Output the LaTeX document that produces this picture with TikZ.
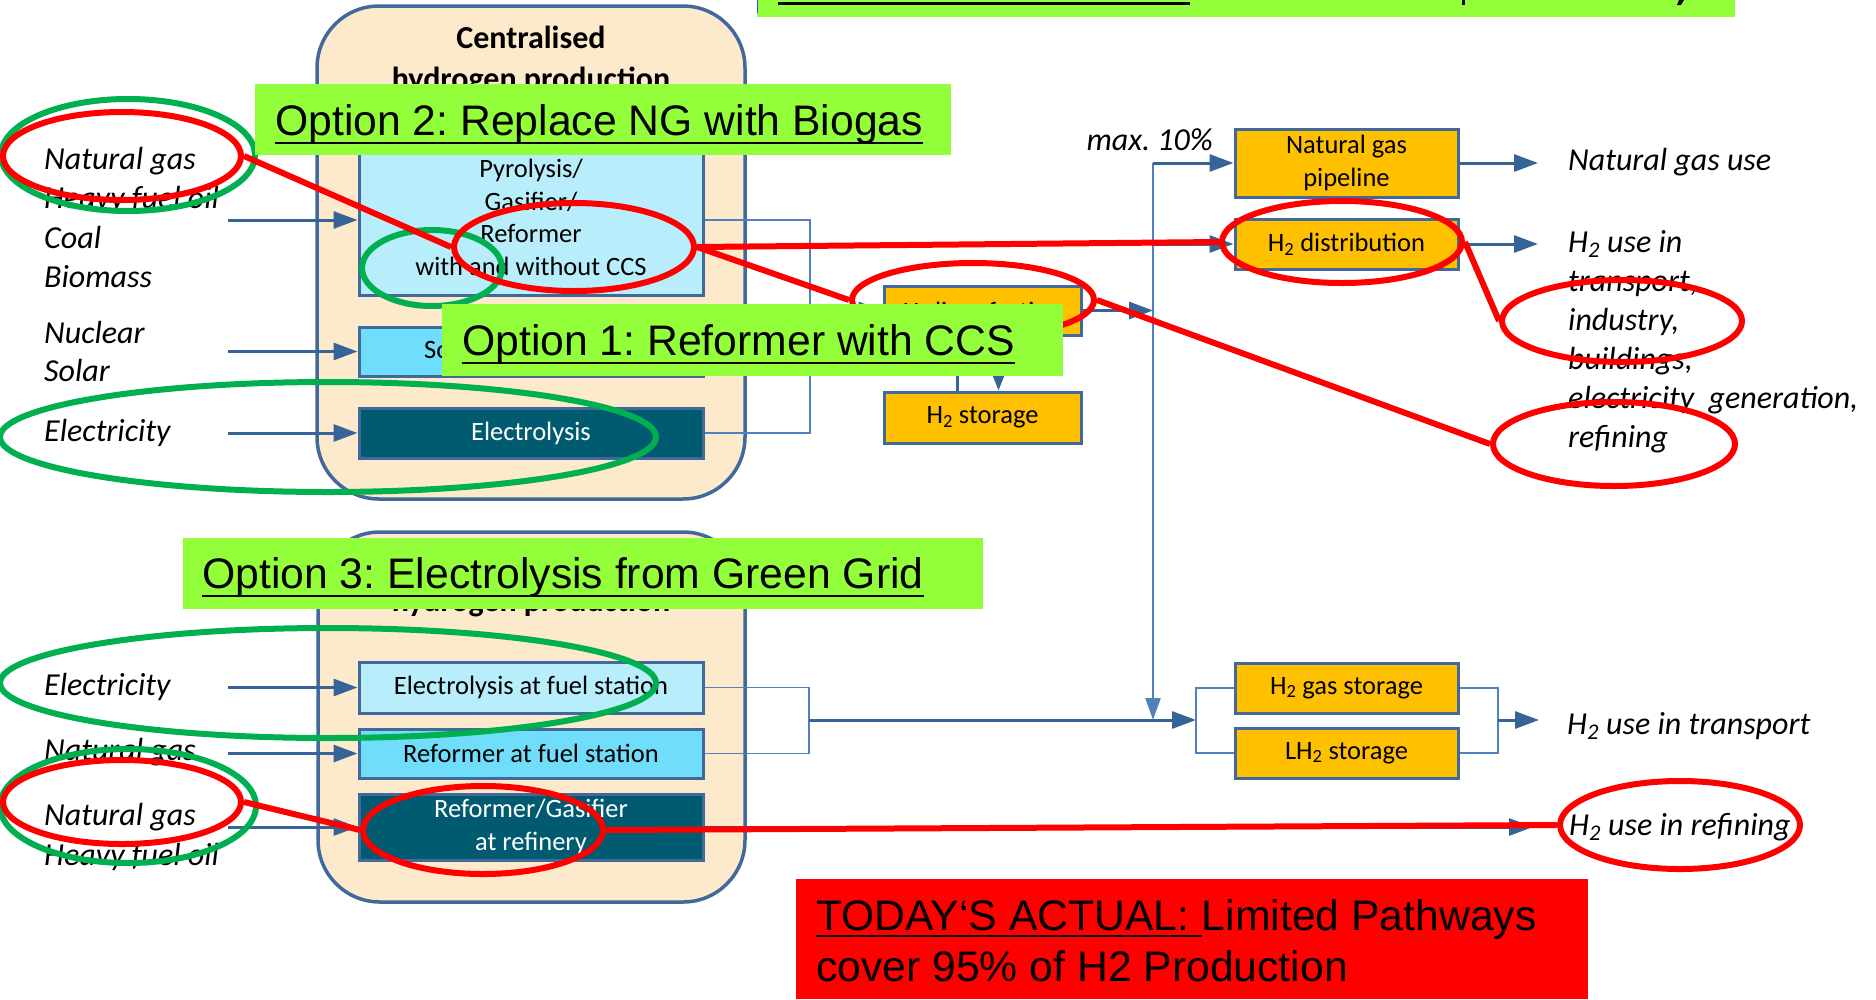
\documentclass[tikz,border=0pt]{standalone}
\usepackage{fontspec}
\setmainfont{Carlito}
\newfontfamily\arialf{Liberation Sans}
\usetikzlibrary{arrows.meta,shapes.geometric,calc}
\definecolor{peach}{RGB}{253,233,203}
\definecolor{frameblue}{RGB}{65,105,155}
\definecolor{lineblue}{RGB}{79,129,189}
\definecolor{arrowblue}{RGB}{54,100,150}
\definecolor{lightbox}{RGB}{184,238,252}
\definecolor{cyanbox}{RGB}{112,222,250}
\definecolor{tealbox}{RGB}{0,90,112}
\definecolor{orangebox}{RGB}{255,192,0}
\definecolor{limebox}{RGB}{146,255,58}
\definecolor{markgreen}{RGB}{0,176,80}
\definecolor{markred}{RGB}{255,0,0}
\definecolor{bannerblue}{RGB}{40,80,255}
\frenchspacing
\begin{document}
\begin{tikzpicture}[x=1pt,y=-1pt,
  group/.style={draw=frameblue, fill=peach, line width=3.5pt, rectangle, rounded corners=62pt, inner sep=0pt},
  grouptitle/.style={inner sep=0pt, anchor=base, font=\bfseries\fontsize{32}{40}\selectfont},
  proc/.style={draw=frameblue, line width=3pt, rectangle, inner sep=0pt, align=center, minimum width=344pt, font=\fontsize{26.5}{32.5}\selectfont},
  pale/.style={proc, fill=lightbox},
  aqua/.style={proc, fill=cyanbox},
  dark/.style={proc, fill=tealbox, text=white},
  amber/.style={proc, fill=orangebox, minimum width=223pt},
  lbl/.style={inner sep=0pt, anchor=base west, font=\itshape\fontsize{32}{39}\selectfont},
  feed/.style={draw=arrowblue, line width=3pt, -{Triangle[length=24pt,width=17pt]}},
  spine/.style={draw=lineblue, line width=2.5pt},
  thinline/.style={draw=lineblue, line width=1.8pt},
  smallfeed/.style={draw=arrowblue, line width=2.2pt, -{Triangle[length=16pt,width=12pt]}},
  redring/.style={draw=markred, line width=6pt, ellipse, inner sep=0pt},
  greenring/.style={draw=markgreen, line width=6pt, ellipse, inner sep=0pt},
  redlink/.style={draw=markred, line width=6pt},
  optbox/.style={fill=limebox, rectangle, inner sep=0pt},
  opttext/.style={inner sep=0pt, anchor=base west, font=\arialf\fontsize{42.7}{50}\selectfont},
]
\useasboundingbox (0,0) rectangle (1876,999);

% ---------- group frames ----------
\node[group, minimum width=428pt, minimum height=493pt] (cgroup) at (531,252.5) {};
\node[group, minimum width=427pt, minimum height=370pt] (dgroup) at (531.5,717) {};
\node[grouptitle] (ctitle1) at (531,48) {Centralised};
\node[grouptitle] (ctitle2) at (531,89) {hydrogen production};
\node[grouptitle] (dtitle2) at (531,611) {hydrogen production};

% ---------- process boxes ----------
\node[pale, minimum height=155pt] (pyro) at (531,217.5) {Pyrolysis/\\Gasifier/\\Reformer\\with and without CCS};
\node[aqua, minimum height=49pt] (solar) at (531,351.5) {Solar water splitting};
\node[dark, minimum height=50pt] (elec) at (531,433) {Electrolysis};
\node[pale, minimum height=51pt] (efs) at (531,687.5) {Electrolysis at fuel station};
\node[aqua, minimum height=49pt] (rfs) at (531,753.5) {Reformer at fuel station};
\node[dark, minimum height=66pt] (refy) at (531,827) {Reformer/Gasifier\\at refinery};

\node[amber, minimum width=197pt, minimum height=49pt] (liq) at (982.5,310.5) {};
\node[inner sep=0pt, anchor=base, font=\fontsize{26.5}{32.5}\selectfont] (liqt) at (982.5,320) {H\textsubscript{2} liquefaction};
\node[amber, minimum width=197pt, minimum height=51pt] (stor) at (982.5,417.5) {H\textsubscript{2} storage};
\node[amber, minimum height=68pt] (pipe) at (1346.5,163) {Natural gas\\pipeline};
\node[amber, minimum height=50pt] (dist) at (1346.5,244) {H\textsubscript{2} distribution};
\node[amber, minimum height=50pt] (gas) at (1346.5,688) {H\textsubscript{2} gas storage};
\node[amber, minimum height=50pt] (lh2) at (1346.5,753) {LH\textsubscript{2} storage};

% ---------- input labels ----------
\node[lbl] (ng1) at (44,169) {Natural gas};
\node[lbl] (hfo1) at (44,208) {Heavy fuel oil};
\node[lbl] (coal) at (44,248) {Coal};
\node[lbl] (bio) at (44,287) {Biomass};
\node[lbl] (nuc) at (44,343) {Nuclear};
\node[lbl] (sol) at (44,381) {Solar};
\node[lbl] (el1) at (44,441) {Electricity};
\node[lbl] (el2) at (44,695) {Electricity};
\node[lbl] (ng2) at (44,760) {Natural gas};
\node[lbl] (ng3) at (44,825) {Natural gas};
\node[lbl] (hfo2) at (44,865) {Heavy fuel oil};

% ---------- output labels ----------
\node[lbl, anchor=base east] (maxp) at (1213,150) {max. 10\%};
\node[lbl] (ngu) at (1568,170) {Natural gas use};
\node[lbl] (hu1) at (1568,252) {H\textsubscript{2} use in};
\node[lbl] (hu2) at (1568,291) {transport,};
\node[lbl] (hu3) at (1568,330) {industry,};
\node[lbl] (hu4) at (1568,369) {buildings,};
\node[lbl] (hu5) at (1568,408) {electricity\ \ generation,};
\node[lbl] (hu6) at (1568,447) {refining};
\node[lbl] (hut) at (1567,734) {H\textsubscript{2} use in transport};
\node[lbl] (hur) at (1569,835) {H\textsubscript{2} use in refining};

% ---------- input arrows ----------
\coordinate (iA) at (228,220);
\coordinate (iB) at (228,351.5);
\coordinate (iC) at (228,433);
\coordinate (iD) at (228,687.5);
\coordinate (iE) at (228,753.5);
\coordinate (iF) at (228,827);
\draw[feed] (iA) -- (iA -| pyro.west);
\draw[feed] (iB) -- (solar.west);
\draw[feed] (iC) -- (elec.west);
\draw[feed] (iD) -- (efs.west);
\draw[feed] (iE) -- (rfs.west);
\draw[feed] (iF) -- (refy.west);

% ---------- centralised collector ----------
\coordinate (bU1) at (810,220);
\coordinate (bU2) at (810,433);
\coordinate (bUm) at (bU1 |- liq.west);
\draw[thinline] (pyro.east |- bU1) -- (bU1) -- (bU2) -- (elec.east);
\draw[thinline] (solar.east) -- (solar.east -| bU1);
\draw[feed] (bUm) -- (liq.west);
\draw[smallfeed] ($(stor.north)+(-25,0)$) -- ($(liq.south)+(-25,0)$);
\draw[smallfeed] ($(liq.south)+(16,0)$) -- ($(stor.north)+(16,0)$);

% ---------- distribution spine ----------
\coordinate (vTop) at (1153,163);
\coordinate (vBot) at (1153,720);
\draw[spine, -{Triangle[length=22pt,width=15pt]}] (vTop) -- (vBot);
\draw[feed] (vTop) -- (pipe.west);
\draw[feed] (vTop |- dist.west) -- (dist.west);
\draw[feed] (liq.east) -- (liq.east -| vTop);
\coordinate (oNG) at (1538,163);
\coordinate (oH) at (1538,244);
\draw[feed] (pipe.east) -- (oNG);
\draw[feed] (dist.east) -- (oH);

% ---------- decentralised collector ----------
\coordinate (bL1) at (809,687.5);
\coordinate (bLm) at (809,720);
\coordinate (sBm) at (1196,720);
\coordinate (oBm) at (1498,720);
\coordinate (oT) at (1539,720);
\coordinate (oR) at (1533,827);
\draw[thinline] (efs.east) -- (bL1) -- (rfs.east -| bL1) -- (rfs.east);
\draw[feed] (bLm) -- (sBm);
\draw[thinline] (gas.west) -- (gas.west -| sBm) -- (lh2.west -| sBm) -- (lh2.west);
\draw[thinline] (gas.east) -- (gas.east -| oBm) -- (lh2.east -| oBm) -- (lh2.east);
\draw[feed] (oBm) -- (oT);
\draw[feed] (refy.east) -- (oR);

% ---------- green marks ----------
\node[greenring, minimum width=254pt, minimum height=112pt] (gNG1) at (128,155) {};
\node[greenring, minimum width=140pt, minimum height=76pt] (gWith) at (432,268) {};
\node[greenring, minimum width=656pt, minimum height=110pt] (gEl1) at (328,437) {};
\node[greenring, minimum width=656pt, minimum height=110pt] (gEl2) at (328,683) {};
\node[greenring, minimum width=256pt, minimum height=114pt] (gNG2) at (128,806) {};

% ---------- red marks ----------
\node[redring, minimum width=238pt, minimum height=88pt] (rNG1) at (122,156) {};
\node[redring, minimum width=240pt, minimum height=88pt] (rRef) at (574,247) {};
\node[redring, minimum width=242pt, minimum height=74pt] (rLiq) at (973,300) {};
\node[redring, minimum width=240pt, minimum height=82pt] (rDist) at (1342,242) {};
\node[redring, minimum width=240pt, minimum height=82pt] (rInd) at (1622,321) {};
\node[redring, minimum width=242pt, minimum height=84pt] (rRefg) at (1614,444) {};
\node[redring, minimum width=238pt, minimum height=84pt] (rNG2) at (122,802) {};
\node[redring, minimum width=240pt, minimum height=88pt] (rRefy) at (483,830) {};
\node[redring, minimum width=240pt, minimum height=88pt] (rRefg2) at (1680,825) {};
\draw[redlink] (rNG1.east) -- (rRef.west);
\draw[redlink] (rRef.east) -- (rLiq.west);
\draw[redlink] (rRef.east) -- (rDist.west);
\draw[redlink] (rLiq.east) -- (rRefg.west);
\draw[redlink] (rDist.east) -- (rInd.west);
\draw[redlink] (rNG2.east) -- (rRefy.west);
\draw[redlink] (rRefy.east) -- (rRefg2.west);

% ---------- option labels ----------
\node[optbox, minimum width=696pt, minimum height=71pt] (o2) at (603,119.5) {};
\node[opttext] (o2t) at (275,135) {Option 2: Replace NG with Biogas};
\draw[line width=2.8pt] ($(o2t.base west)+(0,8)$) -- ($(o2t.base east)+(0,8)$);
\node[optbox, minimum width=621pt, minimum height=72pt] (o1) at (752.5,340) {};
\node[opttext] (o1t) at (462,355) {Option 1: Reformer with CCS};
\draw[line width=2.8pt] ($(o1t.base west)+(0,8)$) -- ($(o1t.base east)+(0,8)$);
\node[optbox, minimum width=800pt, minimum height=71pt] (o3) at (583,573.5) {};
\node[opttext] (o3t) at (202,588) {Option 3: Electrolysis from Green Grid};
\draw[line width=2.8pt] ($(o3t.base west)+(0,8)$) -- ($(o3t.base east)+(0,8)$);

% ---------- top banner (cut off) ----------
\fill[limebox] (757,0) rectangle (1735,17);
\draw[bannerblue, line width=1.5pt] (757.5,0) -- (757.5,13);
\fill[black] (778,1.5) rectangle (1190,5);
\fill[black] (1462,0) rectangle (1465,5);
\fill[black] (1679,0) -- (1684,0) -- (1681,5) -- (1677,5) -- cycle;

% ---------- today box ----------
\node[fill=markred, rectangle, inner sep=0pt, minimum width=792pt, minimum height=120pt] (today) at (1192,939) {};
\node[opttext] (td1) at (816,930) {TODAY‘S ACTUAL:};
\draw[line width=2.8pt] ($(td1.base west)+(0,6)$) -- ($(td1.base east)+(12,6)$);
\node[opttext] (td2) at ($(td1.base east)+(12,0)$) {Limited Pathways};
\node[opttext] (td3) at (816,981) {cover 95\% of H2 Production};
\end{tikzpicture}
\end{document}
